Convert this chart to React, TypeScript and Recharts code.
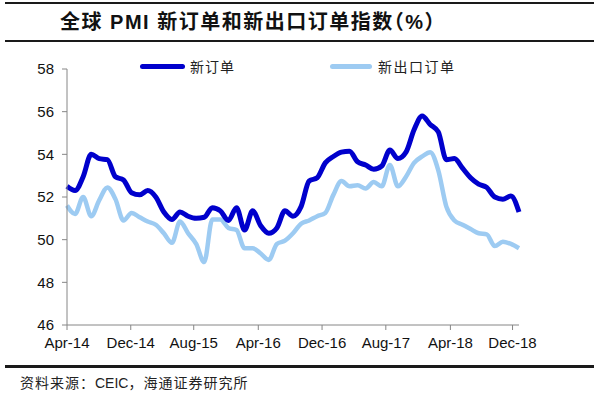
import React from 'react';
import { LineChart, Line, XAxis, YAxis } from 'recharts';

// monthly, Apr-14 .. Dec-18
const MONTHS = [
  'Apr-14', 'May-14', 'Jun-14', 'Jul-14', 'Aug-14', 'Sep-14', 'Oct-14', 'Nov-14', 'Dec-14',
  'Jan-15', 'Feb-15', 'Mar-15', 'Apr-15', 'May-15', 'Jun-15', 'Jul-15', 'Aug-15', 'Sep-15', 'Oct-15', 'Nov-15', 'Dec-15',
  'Jan-16', 'Feb-16', 'Mar-16', 'Apr-16', 'May-16', 'Jun-16', 'Jul-16', 'Aug-16', 'Sep-16', 'Oct-16', 'Nov-16', 'Dec-16',
  'Jan-17', 'Feb-17', 'Mar-17', 'Apr-17', 'May-17', 'Jun-17', 'Jul-17', 'Aug-17', 'Sep-17', 'Oct-17', 'Nov-17', 'Dec-17',
  'Jan-18', 'Feb-18', 'Mar-18', 'Apr-18', 'May-18', 'Jun-18', 'Jul-18', 'Aug-18', 'Sep-18', 'Oct-18', 'Nov-18', 'Dec-18',
];

const NEW_ORDERS = [
  52.5, 52.3, 52.95, 54.0, 53.8, 53.75, 52.95, 52.8, 52.2, 52.1,
  52.3, 52.0, 51.3, 50.95, 51.3, 51.1, 51.0, 51.05, 51.5, 51.35,
  50.9, 51.5, 50.45, 51.35, 50.65, 50.3, 50.55, 51.35, 51.1, 51.55,
  52.75, 52.9, 53.6, 53.9, 54.1, 54.15, 53.65, 53.5, 53.3, 53.45,
  54.2, 53.8, 54.1, 55.15, 55.8, 55.4, 55.05, 53.75, 53.8, 53.35,
  52.9, 52.6, 52.45, 52.0, 51.9, 52.05, 51.3,
];

const NEW_EXPORT_ORDERS = [
  51.6, 51.2, 52.0, 51.1, 51.85, 52.45, 51.9, 50.9, 51.25, 51.05,
  50.85, 50.7, 50.3, 49.85, 50.85, 50.3, 49.8, 48.95, 50.95, 50.95,
  50.55, 50.45, 49.6, 49.6, 49.35, 49.05, 49.8, 49.95, 50.3, 50.75,
  50.9, 51.1, 51.25, 52.1, 52.75, 52.5, 52.55, 52.4, 52.7, 52.5,
  53.5, 52.5, 52.95, 53.6, 53.9, 54.1, 53.25, 51.55, 50.9, 50.7,
  50.5, 50.3, 50.25, 49.7, 49.9, 49.8, 49.6,
];

const Y_TICKS = [46, 48, 50, 52, 54, 56, 58];
// tick positions (in month index units) as they sit on the original date axis
const X_TICK_POS = [0, 7.9, 15.7, 23.7, 31.6, 39.5, 47.5, 55.2];
const X_TICK_LABELS = ['Apr-14', 'Dec-14', 'Aug-15', 'Apr-16', 'Dec-16', 'Aug-17', 'Apr-18', 'Dec-18'];

const DARK = '#0000CC';
const LIGHT = '#9DCBF2';
const AXIS = '#868686';
const LATIN = 'Arial, "Liberation Sans", "Noto Sans CJK SC", sans-serif';
const CJK = '"Noto Sans CJK SC", "Liberation Sans", sans-serif';

const data = MONTHS.map((m, i) => ({
  idx: i,
  month: m,
  newOrders: NEW_ORDERS[i],
  exportOrders: NEW_EXPORT_ORDERS[i],
}));

const rule = (top: number, h: number): React.CSSProperties => ({
  position: 'absolute', left: 5, top, width: 589, height: h, background: '#1a1a1a',
});

export default function App() {
  return (
    <div style={{ position: 'absolute', left: 0, top: 0, width: 600, height: 398, background: '#fff', overflow: 'hidden' }}>
      <div style={rule(2, 2)} />
      <div
        style={{
          position: 'absolute', left: 60, top: 10, fontSize: 20, fontWeight: 700, lineHeight: '24px',
          fontFamily: LATIN, letterSpacing: 1.5, color: '#111', whiteSpace: 'nowrap', fontFeatureSettings: '"halt"',
        }}
      >
        全球 PMI 新订单和新出口订单指数（%）
      </div>
      <div style={rule(40, 2)} />

      <LineChart width={600} height={398} data={data} margin={{ top: 69, right: 81, bottom: 43, left: 27 }}>
        <XAxis
          type="number"
          dataKey="idx"
          domain={[0, MONTHS.length - 1]}
          ticks={X_TICK_POS}
          tickFormatter={(v: number) => X_TICK_LABELS[X_TICK_POS.indexOf(v)] ?? ''}
          interval={0}
          height={30}
          stroke={AXIS}
          tickSize={5}
          tickMargin={7}
          tick={{ fontSize: 15, fill: '#111', fontFamily: LATIN }}
        />
        <YAxis
          domain={[46, 58]}
          ticks={Y_TICKS}
          interval={0}
          width={40}
          stroke={AXIS}
          tickSize={5}
          tickMargin={8}
          tick={{ fontSize: 15, fill: '#111', fontFamily: LATIN }}
        />
        <Line type="monotone" dataKey="exportOrders" stroke={LIGHT} strokeWidth={4.5} dot={false} isAnimationActive={false} />
        <Line type="monotone" dataKey="newOrders" stroke={DARK} strokeWidth={5} dot={false} isAnimationActive={false} />
      </LineChart>

      <div style={{ position: 'absolute', left: 140, top: 64, width: 45, height: 5, borderRadius: 2.5, background: DARK }} />
      <div style={{ position: 'absolute', left: 190, top: 57, fontSize: 14, lineHeight: '18px', letterSpacing: 1, fontFamily: CJK, color: '#222' }}>
        新订单
      </div>
      <div style={{ position: 'absolute', left: 330, top: 64, width: 42, height: 5, borderRadius: 2.5, background: LIGHT }} />
      <div style={{ position: 'absolute', left: 378, top: 57, fontSize: 14, lineHeight: '18px', letterSpacing: 1.5, fontFamily: CJK, color: '#222' }}>
        新出口订单
      </div>

      <div style={rule(365, 3)} />
      <div style={{ position: 'absolute', left: 20, top: 373, fontSize: 14, lineHeight: '18px', letterSpacing: 1, fontFamily: CJK, color: '#222', whiteSpace: 'nowrap' }}>
        资料来源：<span style={{ fontFamily: LATIN, letterSpacing: 0 }}>CEIC</span>，海通证券研究所
      </div>
    </div>
  );
}
